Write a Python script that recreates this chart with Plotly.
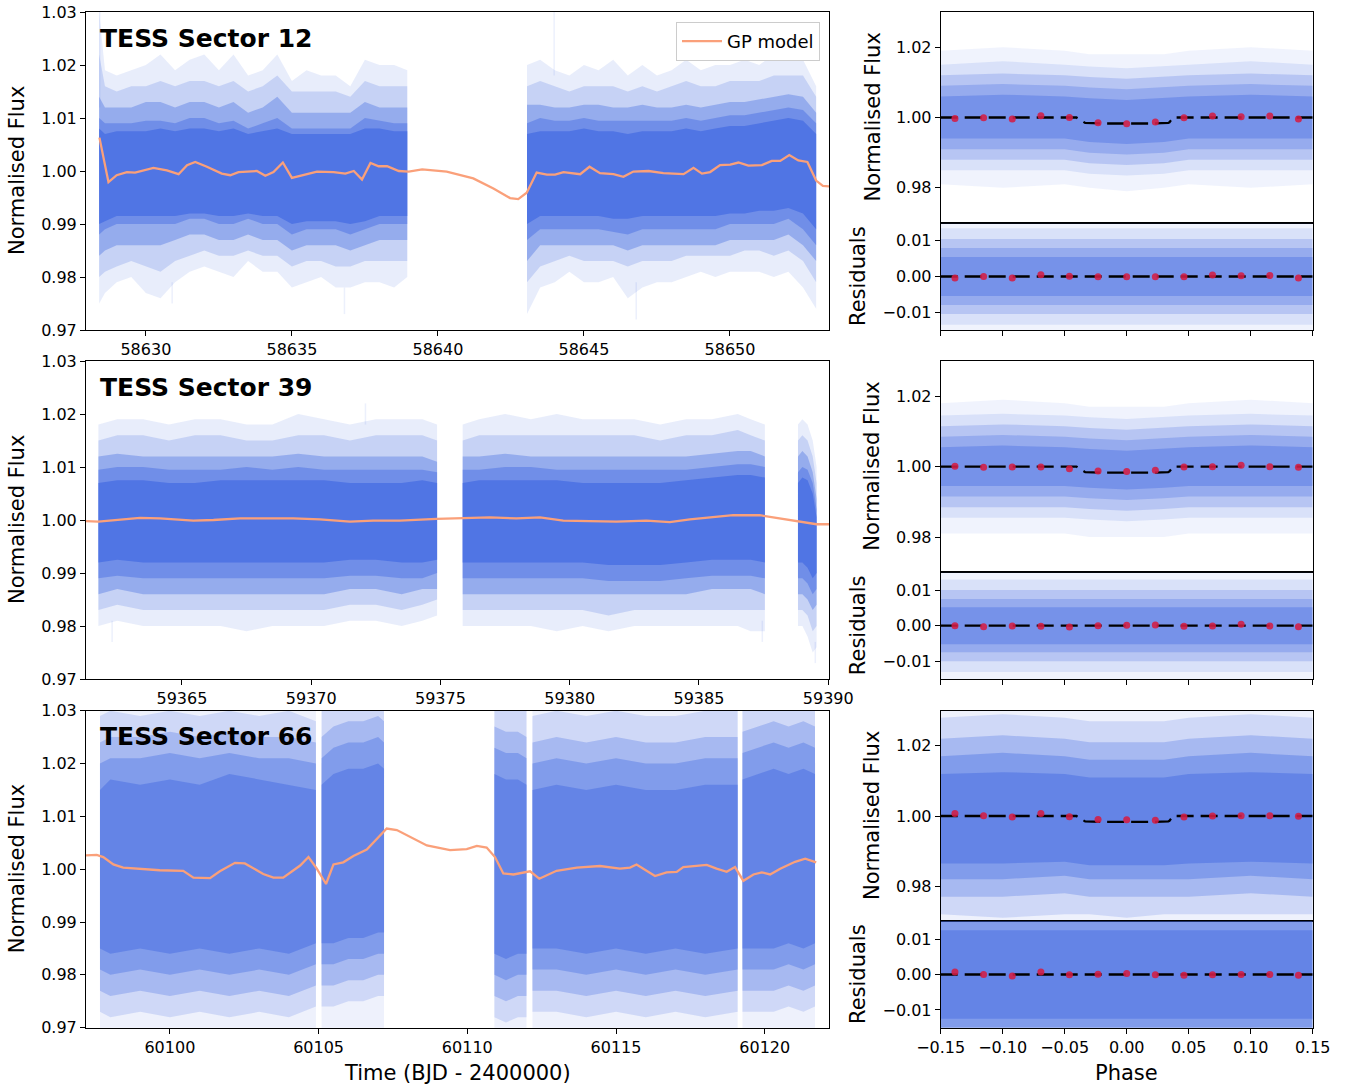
import plotly.graph_objects as go

W, H = 1349, 1088

# ---------------- GP models ----------------
s12_gp_t = [58628.41, 58628.72, 58629.0, 58629.35, 58629.63, 58630.26, 58630.72, 58631.12, 58631.41,
            58631.69, 58632.09, 58632.6, 58632.89, 58633.17, 58633.8, 58634.09, 58634.37, 58634.69, 58635.0,
            58635.52, 58635.86, 58636.43, 58636.83, 58637.12, 58637.4, 58637.69, 58637.97, 58638.26, 58638.66,
            58639.0, 58639.46, 58640.3, 58641.21, 58641.9, 58642.47, 58642.75, 58643.04, 58643.38, 58643.73,
            58644.01, 58644.3, 58644.87, 58645.19, 58645.55, 58646.01, 58646.35, 58646.69, 58647.21, 58647.72,
            58648.41, 58648.75, 58649.04, 58649.32, 58649.66, 58650.01, 58650.29, 58650.63, 58651.09, 58651.43,
            58651.72, 58652.03, 58652.34, 58652.65, 58652.95, 58653.18, 58653.43]
s12_gp_f = [1.0063, 0.9979, 0.9992, 0.9998, 0.9997, 1.0006, 1.0001, 0.9994, 1.0011,
            1.0017, 1.0008, 0.9995, 0.9992, 0.9998, 1.0000, 0.9991, 0.9998, 1.0016, 0.9987,
            0.9995, 0.9999, 0.9998, 0.9995, 1.0000, 0.9984, 1.0015, 1.0009, 1.0009, 1.0000,
            0.9999, 1.0003, 0.9999, 0.9986, 0.9967, 0.9949, 0.9947, 0.9959, 0.9997, 0.9993,
            0.9993, 0.9998, 0.9994, 1.0008, 0.9996, 0.9994, 0.9989, 0.9999, 1.0000, 0.9996,
            0.9994, 1.0006, 0.9995, 0.9998, 1.0011, 1.0012, 1.0016, 1.0010, 1.0011, 1.0019,
            1.0019, 1.0030, 1.0020, 1.0017, 0.9982, 0.9972, 0.9971]

s39_gp_t = [59361.29, 59361.77, 59363.38, 59364.15, 59365.44, 59366.22, 59367.25, 59368.26, 59369.31, 59370.34,
            59371.5, 59372.4, 59373.43, 59374.85, 59375.88, 59376.91, 59377.94, 59378.85, 59379.75, 59380.65,
            59381.81, 59382.97, 59383.87, 59384.65, 59385.68, 59386.32, 59387.35, 59388.13, 59388.9, 59389.55,
            59390.06]
s39_gp_f = [0.9998, 0.9997, 1.0004, 1.0003, 0.9999, 1.0000, 1.0003, 1.0003, 1.0003, 1.0001,
            0.9997, 0.9999, 0.9999, 1.0002, 1.0003, 1.0005, 1.0003, 1.0005, 0.9999, 0.9998,
            0.9997, 0.9999, 0.9996, 1.0001, 1.0006, 1.0009, 1.0009, 1.0003, 0.9996, 0.9992,
            0.9992]

s66_gp_t = [60097.18, 60097.54, 60097.76, 60098.10, 60098.43, 60098.98, 60099.66, 60100.45, 60100.79, 60101.35,
            60101.68, 60102.19, 60102.52, 60103.14, 60103.48, 60103.81, 60104.38, 60104.66, 60104.94, 60105.25,
            60105.50, 60105.83, 60106.17, 60106.62, 60106.95, 60107.29, 60107.63, 60108.07, 60108.64, 60109.42,
            60109.98, 60110.32, 60110.65, 60110.93, 60111.21, 60111.55, 60112.11, 60112.42, 60113.00, 60113.68,
            60114.46, 60115.13, 60115.47, 60115.69, 60116.31, 60116.70, 60117.04, 60117.26, 60118.05, 60118.38,
            60118.72, 60119.00, 60119.28, 60119.62, 60119.90, 60120.18, 60120.52, 60121.02, 60121.36, 60121.73]
s66_gp_f = [1.0026, 1.0027, 1.0023, 1.0009, 1.0003, 1.0001, 0.9998, 0.9997, 0.9984, 0.9983,
            0.9996, 1.0012, 1.0011, 0.9991, 0.9984, 0.9984, 1.0007, 1.0023, 1.0001, 0.9972,
            1.0009, 1.0013, 1.0025, 1.0037, 1.0057, 1.0077, 1.0074, 1.0061, 1.0045, 1.0036,
            1.0038, 1.0044, 1.0041, 1.0023, 0.9992, 0.9990, 0.9996, 0.9982, 0.9997, 1.0003,
            1.0006, 1.0001, 1.0003, 1.0009, 0.9987, 0.9994, 0.9995, 1.0004, 1.0008, 1.0001,
            0.9995, 1.0004, 0.9978, 0.9990, 0.9994, 0.9990, 1.0001, 1.0014, 1.0020, 1.0013]

# ---------------- light-curve data envelopes (one list per segment) ----------------
# Levels L1 (faint tails) ... L5 (dense core), upper (hi) and lower (lo) edges.
s12_t = [[58628.4, 58628.6, 58629.0, 58629.5, 58630.0, 58630.5, 58631.0, 58631.5, 58632.0, 58632.5, 58633.0, 58633.5,
          58634.0, 58634.5, 58635.0, 58635.5, 58636.0, 58636.5, 58637.0, 58637.5, 58638.0, 58638.5, 58638.95],
         [58643.05, 58643.5, 58644.0, 58644.5, 58645.0, 58645.5, 58646.0, 58646.5, 58647.0, 58647.5, 58648.0,
          58648.5, 58649.0, 58649.5, 58650.0, 58650.5, 58651.0, 58651.5, 58652.0, 58652.5, 58652.95]]
s12_L1_hi = [[1.030, 1.019, 1.018, 1.019, 1.020, 1.022, 1.019, 1.021, 1.022, 1.019, 1.022, 1.018,
              1.019, 1.022, 1.017, 1.019, 1.018, 1.018, 1.016, 1.021, 1.020, 1.020, 1.019],
             [1.020, 1.021, 1.019, 1.018, 1.020, 1.019, 1.021, 1.018, 1.020, 1.018, 1.019,
              1.021, 1.019, 1.020, 1.020, 1.021, 1.020, 1.022, 1.023, 1.021, 1.016]]
s12_L1_lo = [[0.975, 0.977, 0.979, 0.980, 0.977, 0.976, 0.979, 0.981, 0.982, 0.981, 0.980, 0.983,
              0.981, 0.981, 0.978, 0.979, 0.980, 0.978, 0.978, 0.979, 0.979, 0.978, 0.980],
             [0.973, 0.978, 0.979, 0.981, 0.979, 0.979, 0.980, 0.976, 0.978, 0.979, 0.979,
              0.980, 0.981, 0.980, 0.981, 0.981, 0.981, 0.980, 0.981, 0.978, 0.974]]
s12_L2_hi = [[1.022, 1.016, 1.015, 1.016, 1.016, 1.017, 1.016, 1.017, 1.017, 1.016, 1.017, 1.015,
              1.016, 1.018, 1.015, 1.015, 1.015, 1.015, 1.014, 1.017, 1.016, 1.016, 1.016],
             [1.016, 1.017, 1.016, 1.015, 1.016, 1.016, 1.016, 1.015, 1.016, 1.015, 1.016,
              1.017, 1.016, 1.016, 1.017, 1.017, 1.017, 1.018, 1.018, 1.018, 1.014]]
s12_L2_lo = [[0.980, 0.981, 0.982, 0.983, 0.982, 0.981, 0.983, 0.984, 0.985, 0.984, 0.984, 0.985,
              0.984, 0.984, 0.982, 0.983, 0.983, 0.982, 0.982, 0.983, 0.983, 0.983, 0.983],
             [0.979, 0.982, 0.983, 0.984, 0.983, 0.983, 0.983, 0.982, 0.983, 0.983, 0.983,
              0.984, 0.984, 0.984, 0.984, 0.985, 0.985, 0.984, 0.985, 0.983, 0.979]]
s12_L3_hi = [[1.014, 1.012, 1.012, 1.012, 1.013, 1.013, 1.012, 1.013, 1.013, 1.012, 1.013, 1.011,
              1.012, 1.014, 1.011, 1.011, 1.011, 1.011, 1.011, 1.013, 1.012, 1.012, 1.012],
             [1.0125, 1.0125, 1.012, 1.012, 1.0125, 1.0125, 1.012, 1.012, 1.0125, 1.012, 1.012,
              1.0125, 1.012, 1.0125, 1.013, 1.013, 1.0135, 1.014, 1.0145, 1.014, 1.011]]
s12_L3_lo = [[0.984, 0.985, 0.986, 0.986, 0.986, 0.986, 0.987, 0.988, 0.988, 0.987, 0.987, 0.988,
              0.987, 0.987, 0.985, 0.986, 0.986, 0.986, 0.985, 0.986, 0.987, 0.987, 0.987],
             [0.983, 0.986, 0.986, 0.986, 0.986, 0.986, 0.986, 0.985, 0.986, 0.986, 0.986,
              0.986, 0.986, 0.986, 0.987, 0.987, 0.987, 0.987, 0.988, 0.986, 0.983]]
s12_L4_hi = [[1.010, 1.009, 1.009, 1.009, 1.0095, 1.0095, 1.009, 1.010, 1.010, 1.009, 1.0095, 1.008,
              1.009, 1.010, 1.008, 1.008, 1.008, 1.008, 1.008, 1.010, 1.0095, 1.009, 1.009],
             [1.009, 1.010, 1.0095, 1.0095, 1.010, 1.0095, 1.0095, 1.0095, 1.0095, 1.0095, 1.0095,
              1.010, 1.0095, 1.010, 1.0105, 1.0105, 1.011, 1.0115, 1.012, 1.0115, 1.009]]
s12_L4_lo = [[0.988, 0.989, 0.990, 0.990, 0.990, 0.990, 0.990, 0.991, 0.991, 0.990, 0.990, 0.991,
              0.990, 0.990, 0.988, 0.989, 0.989, 0.989, 0.988, 0.989, 0.990, 0.990, 0.990],
             [0.987, 0.989, 0.989, 0.989, 0.989, 0.989, 0.9885, 0.988, 0.989, 0.989, 0.989,
              0.989, 0.989, 0.989, 0.990, 0.990, 0.990, 0.990, 0.991, 0.989, 0.986]]
s12_L5_hi = [[1.008, 1.007, 1.0075, 1.0075, 1.0075, 1.008, 1.0075, 1.008, 1.008, 1.0075, 1.008, 1.007,
              1.0075, 1.008, 1.007, 1.007, 1.007, 1.007, 1.007, 1.008, 1.008, 1.0075, 1.0075],
             [1.007, 1.0075, 1.0075, 1.0075, 1.008, 1.0075, 1.0075, 1.007, 1.0075, 1.0075, 1.0075,
              1.008, 1.0075, 1.008, 1.0085, 1.0085, 1.009, 1.0095, 1.010, 1.0095, 1.007]]
s12_L5_lo = [[0.990, 0.9905, 0.9915, 0.9915, 0.9915, 0.9915, 0.9915, 0.992, 0.992, 0.9915, 0.9915, 0.992,
              0.9915, 0.9915, 0.990, 0.9905, 0.9905, 0.9905, 0.990, 0.9905, 0.9915, 0.9915, 0.9915],
             [0.990, 0.9915, 0.9915, 0.9915, 0.9915, 0.9915, 0.991, 0.991, 0.9915, 0.9915, 0.9915,
              0.9915, 0.9915, 0.9915, 0.992, 0.992, 0.9925, 0.9925, 0.993, 0.992, 0.989]]
# isolated faint outliers: time, low, high
s12_spk_t = [58628.42, 58643.98, 58646.79, 58630.9, 58636.8]
s12_spk_lo = [1.012, 1.018, 0.972, 0.975, 0.973]
s12_spk_hi = [1.030, 1.030, 0.979, 0.979, 0.978]

s39_t = [[59361.77, 59362.5, 59363.5, 59364.5, 59365.5, 59366.5, 59367.5, 59368.5, 59369.5, 59370.5,
          59371.5, 59372.5, 59373.5, 59374.3, 59374.87],
         [59375.86, 59376.5, 59377.5, 59378.5, 59379.5, 59380.5, 59381.5, 59382.5, 59383.5, 59384.5,
          59385.5, 59386.5, 59387.0, 59387.55],
         [59388.83, 59389.0, 59389.2, 59389.4, 59389.55]]
s39_L1_hi = [[1.018, 1.019, 1.019, 1.018, 1.019, 1.019, 1.018, 1.018, 1.020, 1.019, 1.018, 1.019, 1.019, 1.019, 1.018],
             [1.018, 1.019, 1.020, 1.019, 1.020, 1.019, 1.019, 1.019, 1.018, 1.019, 1.019, 1.020, 1.019, 1.018],
             [1.018, 1.019, 1.018, 1.015, 1.010]]
s39_L1_lo = [[0.980, 0.981, 0.980, 0.980, 0.980, 0.980, 0.979, 0.980, 0.980, 0.980, 0.981, 0.981, 0.980, 0.981, 0.982],
             [0.980, 0.980, 0.980, 0.980, 0.979, 0.980, 0.979, 0.980, 0.980, 0.980, 0.980, 0.980, 0.979, 0.979],
             [0.980, 0.980, 0.978, 0.975, 0.976]]
s39_L2_hi = [[1.015, 1.016, 1.016, 1.015, 1.016, 1.016, 1.015, 1.015, 1.016, 1.016, 1.015, 1.016, 1.016, 1.016, 1.015],
             [1.015, 1.016, 1.016, 1.016, 1.016, 1.016, 1.016, 1.016, 1.015, 1.016, 1.016, 1.017, 1.016, 1.015],
             [1.015, 1.016, 1.015, 1.012, 1.007]]
s39_L2_lo = [[0.983, 0.984, 0.983, 0.983, 0.983, 0.983, 0.983, 0.983, 0.983, 0.983, 0.984, 0.984, 0.983, 0.984, 0.985],
             [0.983, 0.983, 0.983, 0.983, 0.983, 0.983, 0.982, 0.983, 0.983, 0.983, 0.983, 0.983, 0.983, 0.983],
             [0.983, 0.983, 0.982, 0.979, 0.980]]
s39_L3_hi = [[1.012, 1.0125, 1.012, 1.012, 1.012, 1.012, 1.012, 1.012, 1.0125, 1.012, 1.012, 1.012, 1.012, 1.012, 1.011],
             [1.012, 1.012, 1.0125, 1.012, 1.012, 1.012, 1.012, 1.012, 1.012, 1.012, 1.0125, 1.013, 1.013, 1.012],
             [1.012, 1.013, 1.012, 1.009, 1.004]]
s39_L3_lo = [[0.986, 0.987, 0.986, 0.986, 0.986, 0.986, 0.986, 0.986, 0.986, 0.986, 0.987, 0.987, 0.986, 0.987, 0.987],
             [0.986, 0.986, 0.986, 0.986, 0.986, 0.986, 0.986, 0.986, 0.986, 0.986, 0.987, 0.987, 0.987, 0.986],
             [0.986, 0.986, 0.985, 0.983, 0.984]]
s39_L4_hi = [[1.0095, 1.010, 1.010, 1.0095, 1.0095, 1.0095, 1.010, 1.0095, 1.010, 1.0095, 1.0095, 1.0095, 1.0095, 1.0095, 1.009],
             [1.0095, 1.0095, 1.010, 1.010, 1.0095, 1.0095, 1.0095, 1.0095, 1.0095, 1.0095, 1.010, 1.0105, 1.0105, 1.010],
             [1.009, 1.010, 1.0095, 1.007, 1.002]]
s39_L4_lo = [[0.989, 0.9895, 0.989, 0.989, 0.989, 0.989, 0.989, 0.989, 0.989, 0.989, 0.9895, 0.9895, 0.989, 0.989, 0.990],
             [0.989, 0.989, 0.989, 0.989, 0.989, 0.989, 0.9885, 0.9885, 0.9885, 0.989, 0.9895, 0.9895, 0.9895, 0.989],
             [0.989, 0.989, 0.988, 0.986, 0.987]]
s39_L5_hi = [[1.007, 1.0075, 1.0075, 1.007, 1.007, 1.0075, 1.0075, 1.0075, 1.0075, 1.0075, 1.007, 1.007, 1.007, 1.0075, 1.007],
             [1.007, 1.0075, 1.0075, 1.0075, 1.0075, 1.007, 1.007, 1.007, 1.007, 1.0075, 1.008, 1.0085, 1.0085, 1.008],
             [1.007, 1.008, 1.0075, 1.005, 1.0005]]
s39_L5_lo = [[0.992, 0.9925, 0.992, 0.992, 0.992, 0.992, 0.992, 0.992, 0.992, 0.992, 0.9925, 0.9925, 0.992, 0.992, 0.9925],
             [0.992, 0.992, 0.992, 0.992, 0.992, 0.992, 0.9915, 0.9915, 0.9915, 0.992, 0.9925, 0.9925, 0.9925, 0.992],
             [0.992, 0.992, 0.991, 0.989, 0.990]]
s39_spk_t = [59362.3, 59372.1, 59387.45, 59389.5]
s39_spk_lo = [0.977, 1.018, 0.977, 0.973]
s39_spk_hi = [0.981, 1.022, 0.981, 0.977]

s66_t = [[60097.65, 60098.0, 60099.0, 60100.0, 60101.0, 60102.0, 60103.0, 60104.0, 60104.91],
         [60105.10, 60105.5, 60106.0, 60106.5, 60107.0, 60107.20],
         [60110.91, 60111.3, 60111.7, 60111.99],
         [60112.19, 60113.0, 60114.0, 60115.0, 60116.0, 60117.0, 60118.0, 60119.09],
         [60119.25, 60119.8, 60120.3, 60120.8, 60121.3, 60121.69]]
s66_L1_hi = [[1.045] * 9, [1.045] * 6, [1.045] * 4, [1.045] * 8, [1.045] * 6]
s66_L1_lo = [[0.955] * 9, [0.955] * 6, [0.955] * 4, [0.955] * 8, [0.955] * 6]
s66_L2_hi = [[1.029, 1.030, 1.029, 1.030, 1.029, 1.030, 1.029, 1.030, 1.028],
             [1.030, 1.032, 1.033, 1.033, 1.034, 1.033],
             [1.032, 1.031, 1.031, 1.030],
             [1.029, 1.030, 1.029, 1.030, 1.029, 1.029, 1.030, 1.030],
             [1.031, 1.032, 1.033, 1.032, 1.033, 1.032]]
s66_L2_lo = [[0.973, 0.972, 0.973, 0.972, 0.973, 0.972, 0.973, 0.972, 0.974],
             [0.974, 0.974, 0.975, 0.975, 0.976, 0.976],
             [0.972, 0.971, 0.972, 0.972],
             [0.973, 0.973, 0.972, 0.973, 0.972, 0.973, 0.972, 0.973],
             [0.973, 0.973, 0.973, 0.974, 0.973, 0.974]]
s66_L3_hi = [[1.024, 1.025, 1.025, 1.026, 1.025, 1.026, 1.025, 1.025, 1.024],
             [1.025, 1.027, 1.028, 1.028, 1.029, 1.028],
             [1.027, 1.026, 1.026, 1.025],
             [1.024, 1.025, 1.024, 1.025, 1.024, 1.024, 1.025, 1.025],
             [1.026, 1.027, 1.028, 1.027, 1.028, 1.027]]
s66_L3_lo = [[0.977, 0.976, 0.977, 0.976, 0.977, 0.976, 0.977, 0.976, 0.978],
             [0.978, 0.978, 0.979, 0.979, 0.980, 0.980],
             [0.976, 0.975, 0.976, 0.976],
             [0.977, 0.977, 0.976, 0.977, 0.976, 0.977, 0.976, 0.977],
             [0.977, 0.977, 0.977, 0.978, 0.977, 0.978]]
s66_L4_hi = [[1.020, 1.021, 1.021, 1.022, 1.021, 1.022, 1.021, 1.021, 1.020],
             [1.021, 1.023, 1.024, 1.024, 1.025, 1.024],
             [1.023, 1.022, 1.022, 1.021],
             [1.020, 1.021, 1.020, 1.021, 1.020, 1.020, 1.021, 1.021],
             [1.022, 1.023, 1.024, 1.023, 1.024, 1.023]]
s66_L4_lo = [[0.981, 0.980, 0.981, 0.980, 0.981, 0.980, 0.981, 0.980, 0.982],
             [0.982, 0.982, 0.983, 0.983, 0.984, 0.984],
             [0.980, 0.979, 0.980, 0.980],
             [0.981, 0.981, 0.980, 0.981, 0.980, 0.981, 0.980, 0.981],
             [0.981, 0.981, 0.981, 0.982, 0.981, 0.982]]
s66_L5_hi = [[1.015, 1.017, 1.016, 1.017, 1.016, 1.018, 1.017, 1.016, 1.015],
             [1.016, 1.018, 1.019, 1.019, 1.020, 1.019],
             [1.018, 1.017, 1.017, 1.016],
             [1.015, 1.016, 1.015, 1.016, 1.015, 1.015, 1.016, 1.016],
             [1.017, 1.018, 1.019, 1.018, 1.019, 1.018]]
s66_L5_lo = [[0.985, 0.984, 0.985, 0.984, 0.985, 0.984, 0.985, 0.984, 0.986],
             [0.986, 0.986, 0.987, 0.987, 0.988, 0.988],
             [0.984, 0.983, 0.984, 0.984],
             [0.985, 0.985, 0.984, 0.985, 0.984, 0.985, 0.984, 0.985],
             [0.985, 0.985, 0.985, 0.986, 0.985, 0.986]]

# ---------------- phase-folded data envelopes ----------------
ph = [-0.15, -0.10, -0.05, -0.03, 0.0, 0.03, 0.05, 0.10, 0.15]
p12_L1_hi = [1.019, 1.020, 1.019, 1.018, 1.018, 1.018, 1.019, 1.020, 1.019]
p12_L1_lo = [0.981, 0.980, 0.981, 0.980, 0.979, 0.980, 0.981, 0.980, 0.981]
p12_L2_hi = [1.015, 1.016, 1.015, 1.0145, 1.014, 1.0145, 1.015, 1.016, 1.015]
p12_L2_lo = [0.985, 0.985, 0.985, 0.984, 0.9835, 0.984, 0.985, 0.985, 0.985]
p12_L3_hi = [1.012, 1.0125, 1.012, 1.0115, 1.011, 1.0115, 1.012, 1.0125, 1.012]
p12_L3_lo = [0.988, 0.988, 0.988, 0.987, 0.9865, 0.987, 0.988, 0.988, 0.988]
p12_L4_hi = [1.009, 1.0095, 1.009, 1.0085, 1.008, 1.0085, 1.009, 1.0095, 1.009]
p12_L4_lo = [0.991, 0.991, 0.991, 0.990, 0.9895, 0.990, 0.991, 0.991, 0.991]
p12_L5_hi = [1.006, 1.0065, 1.006, 1.0055, 1.005, 1.0055, 1.006, 1.0065, 1.006]
p12_L5_lo = [0.994, 0.994, 0.994, 0.993, 0.9925, 0.993, 0.994, 0.994, 0.994]
r12_L1 = [0.017] * 9
r12_L2 = [0.0135] * 9
r12_L3 = [0.0105] * 9
r12_L4 = [0.008] * 9
r12_L5 = [0.0055] * 9

p39_L1_hi = [1.018, 1.019, 1.018, 1.017, 1.017, 1.017, 1.018, 1.019, 1.018]
p39_L1_lo = [0.981, 0.981, 0.981, 0.980, 0.980, 0.980, 0.981, 0.981, 0.981]
p39_L2_hi = [1.0145, 1.015, 1.0145, 1.014, 1.0135, 1.014, 1.0145, 1.015, 1.0145]
p39_L2_lo = [0.9855, 0.9855, 0.9855, 0.985, 0.9845, 0.985, 0.9855, 0.9855, 0.9855]
p39_L3_hi = [1.0115, 1.012, 1.0115, 1.011, 1.0105, 1.011, 1.0115, 1.012, 1.0115]
p39_L3_lo = [0.9885, 0.9885, 0.9885, 0.988, 0.9875, 0.988, 0.9885, 0.9885, 0.9885]
p39_L4_hi = [1.0085, 1.009, 1.0085, 1.008, 1.0075, 1.008, 1.0085, 1.009, 1.0085]
p39_L4_lo = [0.9915, 0.9915, 0.9915, 0.991, 0.9905, 0.991, 0.9915, 0.9915, 0.9915]
p39_L5_hi = [1.0055, 1.006, 1.0055, 1.005, 1.0045, 1.005, 1.0055, 1.006, 1.0055]
p39_L5_lo = [0.9945, 0.9945, 0.9945, 0.994, 0.9935, 0.994, 0.9945, 0.9945, 0.9945]
r39_L1 = [0.0165] * 9
r39_L2 = [0.013] * 9
r39_L3 = [0.010] * 9
r39_L4 = [0.0075] * 9
r39_L5 = [0.0052] * 9

p66_L1_hi = [1.045] * 9
p66_L1_lo = [0.955] * 9
p66_L2_hi = [1.028, 1.029, 1.028, 1.027, 1.027, 1.027, 1.028, 1.029, 1.028]
p66_L2_lo = [0.972, 0.971, 0.972, 0.972, 0.971, 0.972, 0.972, 0.972, 0.972]
p66_L3_hi = [1.022, 1.023, 1.022, 1.021, 1.021, 1.021, 1.022, 1.023, 1.022]
p66_L3_lo = [0.977, 0.977, 0.978, 0.977, 0.977, 0.977, 0.977, 0.978, 0.977]
p66_L4_hi = [1.017, 1.018, 1.017, 1.016, 1.016, 1.016, 1.017, 1.018, 1.017]
p66_L4_lo = [0.982, 0.982, 0.983, 0.982, 0.982, 0.982, 0.982, 0.983, 0.982]
p66_L5_hi = [1.012, 1.0125, 1.012, 1.011, 1.011, 1.011, 1.012, 1.0125, 1.012]
p66_L5_lo = [0.9865, 0.9865, 0.987, 0.986, 0.986, 0.986, 0.9865, 0.987, 0.9865]
r66_L1 = [0.03] * 9
r66_L2 = [0.022] * 9
r66_L3 = [0.018] * 9
r66_L4 = [0.015] * 9
r66_L5 = [0.0125] * 9

# ---------------- transit model and binned points ----------------
model_ph = [-0.15, -0.0405, -0.0385, -0.0365, -0.0345, -0.0335, -0.02, 0.0, 0.02, 0.0335, 0.0345, 0.0355, 0.0365,
            0.0375, 0.15]
model_f = [1.0, 1.0, 0.99955, 0.9991, 0.99865, 0.99845, 0.9983, 0.99825, 0.9983, 0.99845, 0.99865, 0.9991, 0.99955,
           1.0, 1.0]
resid_ph = [-0.15, 0.15]
resid_zero = [0.0, 0.0]

bin_ph = [-0.1385, -0.1154, -0.0923, -0.0692, -0.0462, -0.0231, 0.0, 0.0231, 0.0462, 0.0692, 0.0923, 0.1154, 0.1385]
b12_f = [0.9997, 0.9999, 0.9996, 1.0005, 1.0000, 0.9985, 0.9982, 0.9987, 0.9999, 1.0004, 1.0002, 1.0004, 0.9996]
b12_r = [-0.0004, 0.0, -0.0004, 0.0005, 0.0001, -0.0001, -0.0001, -0.0001, -0.0001, 0.0004, 0.0002, 0.0003, -0.0004]
b39_f = [1.0001, 0.9998, 0.9999, 0.9999, 0.9994, 0.9988, 0.9986, 0.9990, 0.9999, 1.0000, 1.0004, 1.0000, 0.9998]
b39_r = [0.0, -0.0003, -0.0001, -0.0002, -0.0004, 0.0, 0.0001, 0.0002, -0.0002, -0.0001, 0.0004, -0.0001, -0.0003]
b66_f = [1.0007, 1.0001, 0.9997, 1.0007, 0.9998, 0.9990, 0.9989, 0.9988, 0.9997, 1.0000, 1.0001, 1.0001, 0.9999]
b66_r = [0.0007, 0.0, -0.0004, 0.0007, -0.0001, 0.0001, 0.0003, -0.0001, -0.0002, -0.0001, 0.0, 0.0, -0.0002]

# ---------------- styling ----------------
FONT = "DejaVu Sans"
BLUE = "65,105,225"
ORANGE = "rgb(250,160,122)"
RED = "rgba(212,28,68,0.88)"
A_LC = [0.12, 0.20, 0.36, 0.44, 0.68]      # sectors 12 & 39 light curves
A_PH = [0.08, 0.13, 0.225, 0.28, 0.38]     # sectors 12 & 39 phase panels
A_66 = [0.09, 0.18, 0.28, 0.36, 0.46]      # sector 66

fig = go.Figure()


def band_trace(ts, his, los, alpha, xa, ya):
    xs, ys = [], []
    for t, hi, lo in zip(ts, his, los):
        xs += list(t) + list(t[::-1]) + [None]
        ys += list(hi) + list(lo[::-1]) + [None]
    fig.add_trace(go.Scatter(x=xs, y=ys, mode="lines", fill="toself", line=dict(width=0),
                             fillcolor=f"rgba({BLUE},{alpha})", hoverinfo="skip",
                             showlegend=False, xaxis=xa, yaxis=ya))


def levels(ts, pairs, alphas, xa, ya):
    for (hi, lo), a in zip(pairs, alphas):
        band_trace(ts, hi, lo, a, xa, ya)


def spikes(ts, los, his, xa, ya, alpha=0.10):
    xs, ys = [], []
    for t, lo, hi in zip(ts, los, his):
        xs += [t, t, None]
        ys += [lo, hi, None]
    fig.add_trace(go.Scatter(x=xs, y=ys, mode="lines", line=dict(width=1.5, color=f"rgba({BLUE},{alpha})"),
                             hoverinfo="skip", showlegend=False, xaxis=xa, yaxis=ya))


# Sector 12 light curve
levels(s12_t, [(s12_L1_hi, s12_L1_lo), (s12_L2_hi, s12_L2_lo), (s12_L3_hi, s12_L3_lo),
               (s12_L4_hi, s12_L4_lo), (s12_L5_hi, s12_L5_lo)], A_LC, "x", "y")
spikes(s12_spk_t, s12_spk_lo, s12_spk_hi, "x", "y")
fig.add_trace(go.Scatter(x=s12_gp_t, y=s12_gp_f, mode="lines", line=dict(color=ORANGE, width=2.3),
                         name="GP model", showlegend=True, xaxis="x", yaxis="y"))

# Sector 39 light curve
levels(s39_t, [(s39_L1_hi, s39_L1_lo), (s39_L2_hi, s39_L2_lo), (s39_L3_hi, s39_L3_lo),
               (s39_L4_hi, s39_L4_lo), (s39_L5_hi, s39_L5_lo)], A_LC, "x2", "y2")
spikes(s39_spk_t, s39_spk_lo, s39_spk_hi, "x2", "y2")
fig.add_trace(go.Scatter(x=s39_gp_t, y=s39_gp_f, mode="lines", line=dict(color=ORANGE, width=2.3),
                         showlegend=False, xaxis="x2", yaxis="y2"))

# Sector 66 light curve
levels(s66_t, [(s66_L1_hi, s66_L1_lo), (s66_L2_hi, s66_L2_lo), (s66_L3_hi, s66_L3_lo),
               (s66_L4_hi, s66_L4_lo), (s66_L5_hi, s66_L5_lo)], A_66, "x3", "y3")
fig.add_trace(go.Scatter(x=s66_gp_t, y=s66_gp_f, mode="lines", line=dict(color=ORANGE, width=2.3),
                         showlegend=False, xaxis="x3", yaxis="y3"))


def neg(a):
    return [-v for v in a]


phase_sets = [
    ("x4", "y4", "x5", "y5", A_PH,
     [(p12_L1_hi, p12_L1_lo), (p12_L2_hi, p12_L2_lo), (p12_L3_hi, p12_L3_lo), (p12_L4_hi, p12_L4_lo),
      (p12_L5_hi, p12_L5_lo)],
     [r12_L1, r12_L2, r12_L3, r12_L4, r12_L5], b12_f, b12_r),
    ("x6", "y6", "x7", "y7", A_PH,
     [(p39_L1_hi, p39_L1_lo), (p39_L2_hi, p39_L2_lo), (p39_L3_hi, p39_L3_lo), (p39_L4_hi, p39_L4_lo),
      (p39_L5_hi, p39_L5_lo)],
     [r39_L1, r39_L2, r39_L3, r39_L4, r39_L5], b39_f, b39_r),
    ("x8", "y8", "x9", "y9", A_66,
     [(p66_L1_hi, p66_L1_lo), (p66_L2_hi, p66_L2_lo), (p66_L3_hi, p66_L3_lo), (p66_L4_hi, p66_L4_lo),
      (p66_L5_hi, p66_L5_lo)],
     [r66_L1, r66_L2, r66_L3, r66_L4, r66_L5], b66_f, b66_r),
]
DASH = "17px,7px"
for xf, yf, xr, yr, alphas, flev, rlev, bf, br in phase_sets:
    levels([ph], [([hi], [lo]) for hi, lo in flev], alphas, xf, yf)
    levels([ph], [([r], [neg(r)]) for r in rlev], alphas, xr, yr)
    fig.add_trace(go.Scatter(x=model_ph, y=model_f, mode="lines",
                             line=dict(color="black", width=2.3, dash=DASH),
                             showlegend=False, xaxis=xf, yaxis=yf))
    fig.add_trace(go.Scatter(x=resid_ph, y=resid_zero, mode="lines",
                             line=dict(color="black", width=2.3, dash=DASH),
                             showlegend=False, xaxis=xr, yaxis=yr))
    fig.add_trace(go.Scatter(x=bin_ph, y=bf, mode="markers", marker=dict(color=RED, size=7),
                             showlegend=False, xaxis=xf, yaxis=yf))
    fig.add_trace(go.Scatter(x=bin_ph, y=br, mode="markers", marker=dict(color=RED, size=7),
                             showlegend=False, xaxis=xr, yaxis=yr))


# ---------------- axes ----------------
def px_x(a, b):
    return [a / W, b / W]


def px_y(top, bottom):
    return [1 - bottom / H, 1 - top / H]


TICKF = dict(family=FONT, size=16, color="black")
base = dict(showline=True, linecolor="black", linewidth=1, mirror=True, ticks="outside", ticklen=5,
            tickwidth=1, tickcolor="black", showgrid=False, zeroline=False, tickfont=TICKF,
            automargin=False)

LX = px_x(86, 829)
RX = px_x(940.7, 1312.7)
rows = [(12, 330, 223), (361, 679, 572.3), (710.7, 1027.7, 921.3)]
lc_ranges = [[58627.95, 58653.39], [59361.29, 59390.03], [60097.18, 60122.16]]

lay = {}
for i, (top, bot, mid) in enumerate(rows):
    n = i + 1
    xs = "xaxis" if n == 1 else f"xaxis{n}"
    ys = "yaxis" if n == 1 else f"yaxis{n}"
    lay[xs] = dict(base, domain=LX, range=lc_ranges[i], anchor="y" if n == 1 else f"y{n}",
                   tick0=0, dtick=5, tickformat="d")
    lay[ys] = dict(base, domain=px_y(top, bot), range=[0.97, 1.03], anchor="x" if n == 1 else f"x{n}",
                   tickvals=[0.97, 0.98, 0.99, 1.00, 1.01, 1.02, 1.03], tickformat=".2f")
    nf = 4 + 2 * i
    nr = nf + 1
    lay[f"xaxis{nf}"] = dict(base, domain=RX, range=[-0.15, 0.15], anchor=f"y{nf}", ticks="",
                             showticklabels=False)
    lay[f"yaxis{nf}"] = dict(base, domain=px_y(top, mid), range=[0.97, 1.03], anchor=f"x{nf}",
                             tickvals=[0.98, 1.00, 1.02], tickformat=".2f")
    lay[f"xaxis{nr}"] = dict(base, domain=RX, range=[-0.15, 0.15], anchor=f"y{nr}",
                             tickvals=[-0.15, -0.10, -0.05, 0.0, 0.05, 0.10, 0.15], tickformat=".2f",
                             showticklabels=(i == 2))
    lay[f"yaxis{nr}"] = dict(base, domain=px_y(mid, bot), range=[-0.015, 0.015], anchor=f"x{nr}",
                             tickvals=[-0.01, 0.0, 0.01], tickformat=".2f")

# ---------------- annotations ----------------
ann = []


def label(text, x, y, size, angle=0, bold=False, xanchor="center"):
    ann.append(dict(text=f"<b>{text}</b>" if bold else text, x=x / W, y=1 - y / H, xref="paper", yref="paper",
                    showarrow=False, textangle=angle, xanchor=xanchor, yanchor="middle",
                    font=dict(family=FONT, size=size, color="black")))


for (top, bot, mid), title, ty in zip(rows, ["TESS Sector 12", "TESS Sector 39", "TESS Sector 66"],
                                      [38.5, 387.7, 736.7]):
    label(title, 98, ty, 25, bold=True, xanchor="left")
    label("Normalised Flux", 17, (top + bot) / 2, 21, angle=-90)
    label("Normalised Flux", 872, (top + mid) / 2, 21, angle=-90)
    label("Residuals", 857.5, (mid + bot) / 2, 21, angle=-90)
label("Time (BJD - 2400000)", 457.5, 1073, 21)
label("Phase", 1126.7, 1073, 21)

fig.update_layout(
    width=W, height=H, margin=dict(l=0, r=0, t=0, b=0, autoexpand=False),
    paper_bgcolor="white", plot_bgcolor="white",
    annotations=ann,
    legend=dict(x=820 / W, y=1 - 22 / H, xanchor="right", yanchor="top", bgcolor="white",
                bordercolor="#cccccc", borderwidth=1, font=dict(family=FONT, size=18, color="black"),
                itemwidth=40),
    **lay,
)

fig.write_html("out.html")
